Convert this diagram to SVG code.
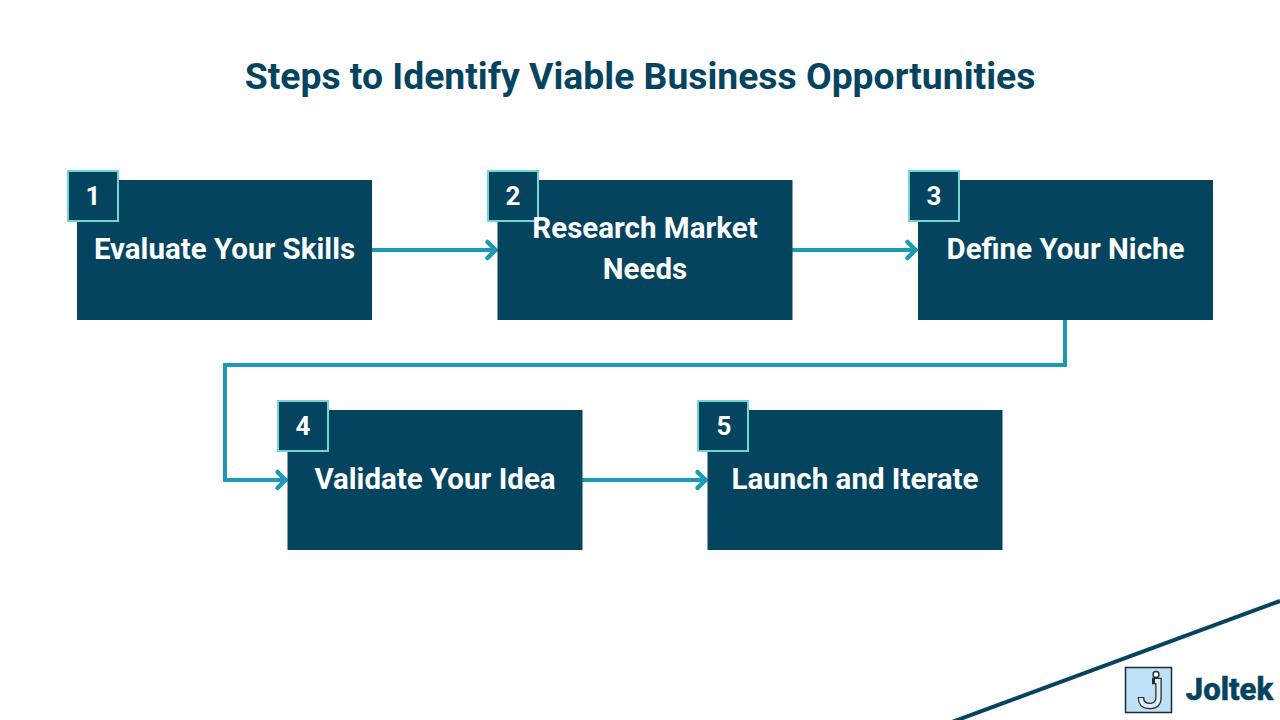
<svg xmlns="http://www.w3.org/2000/svg" width="1280" height="720" viewBox="0 0 1280 720">
<style>
.box{fill:#04445f}
.badge{fill:#04445f;stroke:#72d4d4;stroke-width:2}
.lbl{font-family:Roboto,"Liberation Sans",sans-serif;font-weight:700;font-size:29.5px;fill:#fff;text-anchor:middle}
.num{font-family:Roboto,"Liberation Sans",sans-serif;font-weight:700;font-size:26px;fill:#fff;text-anchor:middle}
.conn{fill:none;stroke:#1c9ab3;stroke-width:4}
</style>
<defs>
<marker id="arr" markerUnits="userSpaceOnUse" markerWidth="24" markerHeight="24" refX="16" refY="12" orient="auto" overflow="visible">
<path d="M6.500 4L14.500 12L6.500 20" fill="none" stroke="#1c9ab3" stroke-width="4.500" stroke-linecap="round" stroke-linejoin="miter"/>
</marker>
</defs>
<rect width="1280" height="720" fill="#fff"/>
<text x="640" y="89" font-family="Roboto,'Liberation Sans',sans-serif" font-weight="700" font-size="37.300px" fill="#04445f" text-anchor="middle">Steps to Identify Viable Business Opportunities</text>
<g id="connectors">
<path class="conn" d="M372 250H497" marker-end="url(#arr)"/>
<path class="conn" d="M792 250H917" marker-end="url(#arr)"/>
<path class="conn" d="M1065 320V365H225V480H287" marker-end="url(#arr)"/>
<path class="conn" d="M582 480H707" marker-end="url(#arr)"/>
</g>
<g id="node1"><rect class="box" x="77" y="180" width="295" height="140"/><rect class="badge" x="68" y="171" width="50" height="50"/><text class="num" x="93" y="205">1</text><text class="lbl" x="224.500" y="259">Evaluate Your Skills</text></g>
<g id="node2"><rect class="box" x="497.500" y="180" width="295" height="140"/><rect class="badge" x="488" y="171" width="50" height="50"/><text class="num" x="513" y="205">2</text><text class="lbl" x="645" y="238">Research Market</text><text class="lbl" x="645" y="279">Needs</text></g>
<g id="node3"><rect class="box" x="918" y="180" width="295" height="140"/><rect class="badge" x="909" y="171" width="50" height="50"/><text class="num" x="934" y="205">3</text><text class="lbl" x="1065.500" y="259">Define Your Niche</text></g>
<g id="node4"><rect class="box" x="287.500" y="410" width="295" height="140"/><rect class="badge" x="278" y="401" width="50" height="50"/><text class="num" x="303" y="435">4</text><text class="lbl" x="435" y="489">Validate Your Idea</text></g>
<g id="node5"><rect class="box" x="707.500" y="410" width="295" height="140"/><rect class="badge" x="698" y="401" width="50" height="50"/><text class="num" x="724" y="435">5</text><text class="lbl" x="855" y="489">Launch and Iterate</text></g>
<path d="M952 722L1280 601" fill="none" stroke="#04445f" stroke-width="4"/>
<g id="logo">
<rect x="1125.500" y="667.500" width="46" height="45" fill="#bfe1f7" stroke="#1d2b33" stroke-width="1.500"/>
<circle cx="1156" cy="674.500" r="3" fill="#fff" stroke="#1d2b33" stroke-width="1.300"/>
<path d="M1152 681H1158.500V697Q1158.500 706 1150 706Q1141 706 1141 697" fill="none" stroke="#1d2b33" stroke-width="6.500"/>
<path d="M1155 681H1158.500V697Q1158.500 706 1150 706Q1141 706 1141 698" fill="none" stroke="#e4ecf0" stroke-width="4"/>
<text x="1229.500" y="699.500" font-family="Roboto,'Liberation Sans',sans-serif" font-weight="800" font-size="31px" fill="#04445f" text-anchor="middle" stroke="#04445f" stroke-width="0.500">Joltek</text>
</g>
</svg>
